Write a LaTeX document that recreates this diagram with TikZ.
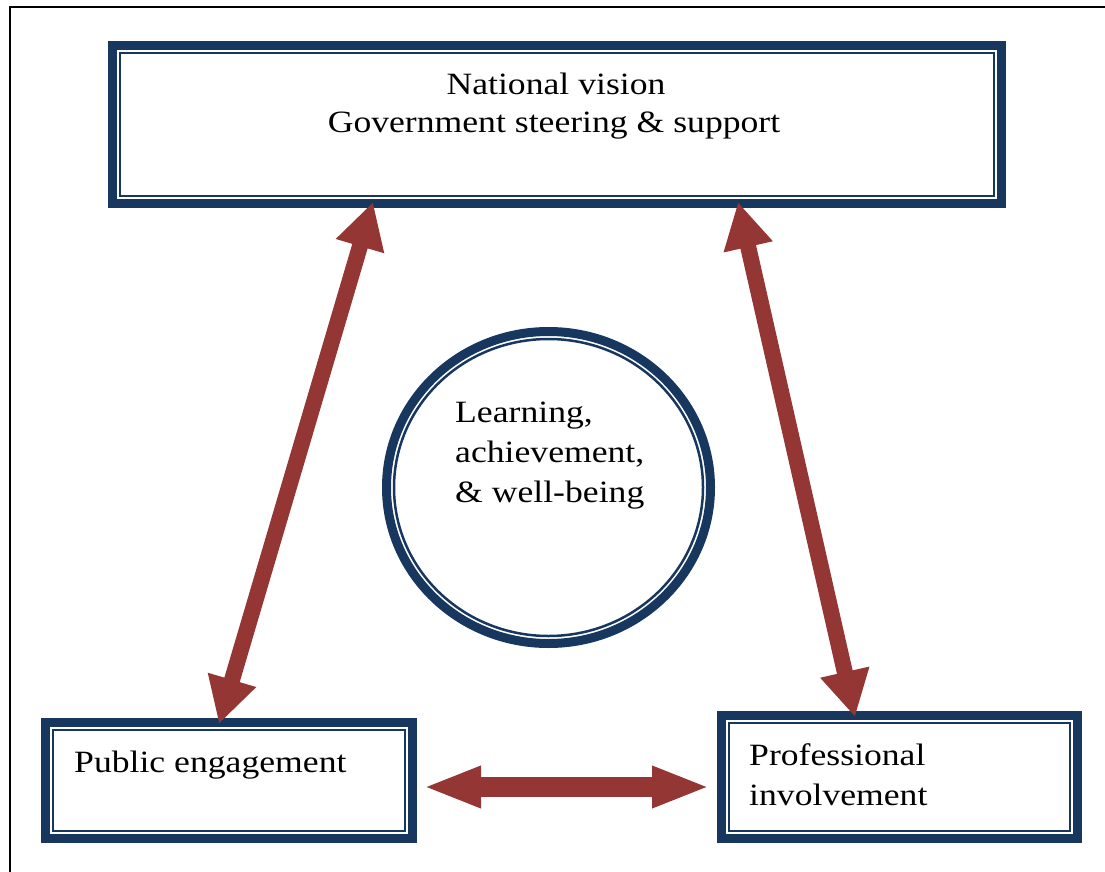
\documentclass[tikz,border=0pt]{standalone}
\usepackage{fontspec}
\setmainfont[FakeStretch=1.15]{Liberation Serif}
\usetikzlibrary{arrows.meta,shapes.geometric}
\definecolor{navy}{HTML}{17375E}
\definecolor{brick}{HTML}{943634}
\tikzset{
  outerbox/.style={draw=navy, line width=9pt, inner sep=0pt, rectangle},
  innerbox/.style={draw=navy, line width=2.5pt, inner sep=0pt, rectangle},
  outerell/.style={draw=navy, line width=9pt, inner sep=0pt, ellipse},
  innerell/.style={draw=navy, line width=2.5pt, inner sep=0pt, ellipse},
  lbl/.style={font=\fontsize{31}{40}\selectfont, inner sep=0pt, text=black},
  diagarrow/.style={draw=brick, line width=16pt,
    {Triangle[length=46pt,width=47pt]}-{Triangle[length=46pt,width=47pt]}},
  horarrow/.style={draw=brick, line width=20pt,
    {Triangle[length=58pt,width=38pt]}-{Triangle[length=58pt,width=38pt]}},
}
\begin{document}
\begin{tikzpicture}[x=1pt,y=-1pt]
\useasboundingbox (0,0) rectangle (1105,872);
% frame
\draw[line width=2pt, black] (1105,7) -- (10,7) -- (10,872);
% top box
\node[outerbox, minimum width=889pt, minimum height=158pt] (nv) at (557,124.5) {};
\node[innerbox, minimum width=874pt, minimum height=143pt] (nvin) at (nv.center) {};
% public engagement box
\node[outerbox, minimum width=367pt, minimum height=116pt] (pe) at (229,780.5) {};
\node[innerbox, minimum width=352pt, minimum height=101pt] (pein) at (pe.center) {};
% professional box
\node[outerbox, minimum width=356pt, minimum height=123pt] (pi) at (899.5,777) {};
\node[innerbox, minimum width=341pt, minimum height=108pt] (piin) at (pi.center) {};
% centre ellipse
\node[outerell, minimum width=324pt, minimum height=312pt] (ce) at (548.5,487.5) {};
\node[innerell, minimum width=309pt, minimum height=297pt] (cein) at (ce.center) {};
% texts
\node[lbl, anchor=base] (t1) at (556,95) {National vision};
\node[lbl, anchor=base] (t2) at (554,132) {Government steering \& support};
\node[lbl, anchor=base west] (c1) at (455,422) {Learning,};
\node[lbl, anchor=base west] (c2) at (455,462) {achievement,};
\node[lbl, anchor=base west] (c3) at (455,502) {\& well-being};
\node[lbl, anchor=base west] (p1) at (74,772) {Public engagement};
\node[lbl, anchor=base west] (q1) at (749,765) {Professional};
\node[lbl, anchor=base west] (q2) at (749,805) {involvement};
% arrow end points
\coordinate (aTL) at (373,202);
\coordinate (aBL) at (219,724);
\coordinate (aTR) at (738,202);
\coordinate (aBR) at (855,717);
\coordinate (hL) at (423,787);
\coordinate (hR) at (710,787);
\draw[diagarrow] (aTL) -- (aBL);
\draw[diagarrow] (aTR) -- (aBR);
\draw[horarrow] (hL) -- (hR);
\end{tikzpicture}
\end{document}
